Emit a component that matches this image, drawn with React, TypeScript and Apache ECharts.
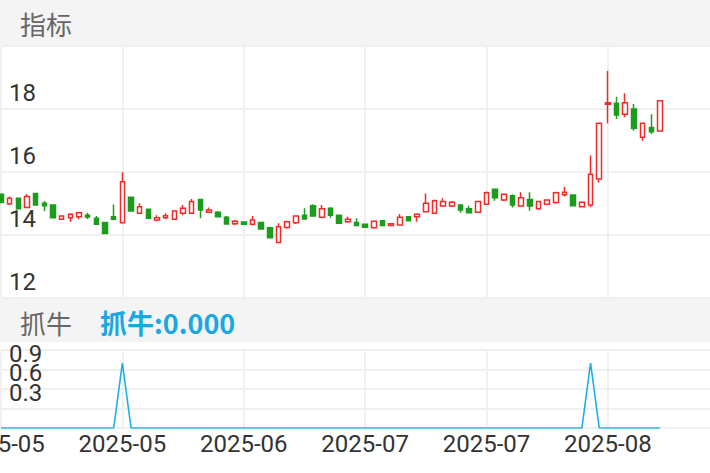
import React, { useEffect, useRef } from "react";
import * as echarts from "echarts";

// Trading dates (category axis)
const dates: string[] = [
  "2025-05-06","2025-05-07","2025-05-08","2025-05-09","2025-05-12","2025-05-13","2025-05-14","2025-05-15","2025-05-16",
  "2025-05-19","2025-05-20","2025-05-21","2025-05-22","2025-05-23","2025-05-26","2025-05-27","2025-05-28","2025-05-29","2025-05-30",
  "2025-06-03","2025-06-04","2025-06-05","2025-06-06","2025-06-09","2025-06-10","2025-06-11","2025-06-12","2025-06-13",
  "2025-06-16","2025-06-17","2025-06-18","2025-06-19","2025-06-20","2025-06-23","2025-06-24","2025-06-25","2025-06-26","2025-06-27","2025-06-30",
  "2025-07-01","2025-07-02","2025-07-03","2025-07-04","2025-07-07","2025-07-08","2025-07-09","2025-07-10","2025-07-11",
  "2025-07-14","2025-07-15","2025-07-16","2025-07-17","2025-07-18","2025-07-21","2025-07-22","2025-07-23","2025-07-24","2025-07-25",
  "2025-07-28","2025-07-29","2025-07-30","2025-07-31","2025-08-01","2025-08-04","2025-08-05","2025-08-06","2025-08-07","2025-08-08",
  "2025-08-11","2025-08-12","2025-08-13","2025-08-14","2025-08-15","2025-08-18","2025-08-19","2025-08-20","2025-08-21",
];

const opens: number[] = [
  15.29,14.99,15.17,14.87,15.32,15.01,14.95,14.50,14.55,14.58,14.63,14.53,14.40,14.58,14.39,15.20,14.69,14.82,14.48,14.55,
  14.50,14.69,14.69,15.13,14.72,14.72,14.56,14.36,14.41,14.34,14.40,14.23,13.76,14.24,14.39,14.63,14.93,14.56,14.85,14.63,
  14.42,14.40,14.34,14.23,14.45,14.30,14.32,14.58,14.58,14.74,14.69,14.92,14.92,14.95,14.83,14.72,14.98,15.45,15.11,15.25,
  14.92,15.13,14.83,14.98,15.03,15.28,15.27,14.90,14.95,15.78,18.15,18.18,17.83,18.00,17.10,17.41,17.30,
];
const closes: number[] = [
  15.04,15.17,14.83,15.22,14.95,14.93,14.55,14.60,14.66,14.71,14.57,14.34,14.05,14.50,15.69,14.76,14.90,14.53,14.55,14.61,
  14.76,14.85,15.06,14.79,14.79,14.58,14.35,14.44,14.34,14.48,14.19,13.91,14.26,14.42,14.60,14.51,14.60,14.83,14.63,14.37,
  14.50,14.30,14.25,14.44,14.30,14.36,14.56,14.45,14.66,15.01,15.09,15.06,15.04,14.79,14.71,15.06,15.34,15.18,15.29,14.95,
  15.18,14.92,15.06,15.11,15.34,15.36,14.93,15.04,15.93,17.55,18.20,17.81,18.20,17.39,17.55,17.28,18.26,
];
const lows: number[] = [
  15.00,14.95,14.81,14.85,14.93,14.76,14.53,14.48,14.42,14.50,14.51,14.33,14.03,14.47,14.37,14.74,14.67,14.52,14.44,14.50,
  14.49,14.63,14.67,14.53,14.71,14.56,14.34,14.32,14.33,14.30,14.18,13.90,13.74,14.21,14.35,14.50,14.58,14.53,14.55,14.36,
  14.39,14.29,14.24,14.22,14.29,14.28,14.29,14.44,14.42,14.72,14.67,14.90,14.89,14.71,14.70,14.71,14.95,15.09,15.08,14.87,
  14.90,14.77,14.80,14.95,14.99,15.22,14.92,14.88,14.88,15.67,17.55,17.68,17.74,17.31,16.99,17.21,17.30,
];
const highs: number[] = [
  15.32,15.22,15.18,15.29,15.33,15.08,14.96,14.62,14.69,14.74,14.71,14.60,14.42,14.97,15.99,15.22,15.01,14.83,14.63,14.69,
  14.77,14.95,15.14,15.14,14.87,14.76,14.60,14.48,14.42,14.60,14.41,14.26,14.37,14.45,14.63,14.85,14.98,14.95,14.88,14.64,
  14.58,14.53,14.35,14.46,14.46,14.38,14.67,14.60,14.69,15.32,15.13,15.17,15.08,14.96,14.93,15.07,15.38,15.48,15.32,15.29,
  15.36,15.36,15.09,15.13,15.37,15.53,15.28,15.05,16.52,17.55,19.21,18.39,18.50,18.16,17.55,17.83,18.26,
];

// 抓牛 signal
const signal: number[] = [
  0,0,0,0,0,0,0,0,0,0,0,0,0,0,1,0,0,0,0,0,
  0,0,0,0,0,0,0,0,0,0,0,0,0,0,0,0,0,0,0,0,
  0,0,0,0,0,0,0,0,0,0,0,0,0,0,0,0,0,0,0,0,
  0,0,0,0,0,0,0,0,1,0,0,0,0,0,0,0,0,
];

const priceTicks = { min: 12, max: 20, interval: 2 };
const signalTicks = { min: 0, max: 1.2, interval: 0.3 };

const STEP = 8.67;
const AXIS_MAX = 83;
const GRID_COLOR = "#f0f0f0";
const FONT = 'Roboto, "Noto Sans CJK SC", sans-serif';
const CJK = '"Noto Sans CJK SC", sans-serif';

export default function App() {
  const ref = useRef<HTMLDivElement>(null);
  useEffect(() => {
    document.body.style.margin = "0";
    if (!ref.current) return;
    const chart = echarts.init(ref.current, null, { renderer: "svg" });
    const kdata = opens.map((o, i) => [o, closes[i], lows[i], highs[i]]);
    const splitLine = { show: true, interval: 13, lineStyle: { color: GRID_COLOR, width: 2 } };
    chart.setOption({
      animation: false,
      backgroundColor: "#ffffff",
      grid: [
        { left: 1, top: 46, width: AXIS_MAX * STEP, height: 252, outerBoundsMode: "none", containLabel: false },
        { left: 1, top: 350, width: AXIS_MAX * STEP, height: 78, outerBoundsMode: "none", containLabel: false },
      ],
      xAxis: [
        {
          type: "category", gridIndex: 0, data: dates, boundaryGap: false, max: AXIS_MAX,
          axisLine: { show: false }, axisTick: { show: false },
          axisLabel: { show: false, interval: 13 }, splitLine,
        },
        {
          type: "category", gridIndex: 1, data: dates, boundaryGap: false, max: AXIS_MAX,
          axisLine: { show: false }, axisTick: { show: false },
          axisLabel: {
            interval: 13, fontSize: 24, color: "#333", margin: 4, fontFamily: FONT,
            formatter: (v: string) => (v ? v.slice(0, 7) : ""),
          },
          splitLine,
        },
      ],
      yAxis: [
        {
          type: "value", gridIndex: 0, ...priceTicks, position: "left",
          axisLine: { show: false }, axisTick: { show: false },
          splitLine: { lineStyle: { color: GRID_COLOR, width: 2 } },
          axisLabel: {
            inside: true, showMaxLabel: false, verticalAlign: "bottom", fontSize: 24,
            color: "#333", margin: 8, fontFamily: FONT, padding: [0, 0, 4, 0],
          },
        },
        {
          type: "value", gridIndex: 1, ...signalTicks, position: "left",
          axisLine: { show: false }, axisTick: { show: false },
          splitLine: { lineStyle: { color: GRID_COLOR, width: 2 } },
          axisLabel: {
            inside: true, showMaxLabel: false, showMinLabel: false, verticalAlign: "bottom",
            fontSize: 24, color: "#333", margin: 8, fontFamily: FONT, padding: [0, 0, 4, 0],
            formatter: (v: number) => v.toFixed(1),
          },
        },
      ],
      series: [
        {
          type: "candlestick", xAxisIndex: 0, yAxisIndex: 0, data: kdata, barWidth: 5,
          itemStyle: {
            color: "#ffffff", color0: "#1c9c1c",
            borderColor: "#f42a2a", borderColor0: "#1c9c1c", borderWidth: 1.5,
          },
        },
        {
          type: "line", xAxisIndex: 1, yAxisIndex: 1, data: signal, symbol: "none",
          lineStyle: { color: "#1aaee8", width: 1.6 },
        },
      ],
      graphic: [
        { type: "rect", shape: { x: 0, y: 0, width: 710, height: 45 }, style: { fill: "#f4f4f4" }, silent: true },
        { type: "rect", shape: { x: 0, y: 299, width: 710, height: 43 }, style: { fill: "#f4f4f4" }, silent: true },
        {
          type: "text", x: 20, y: 23,
          style: { text: "指标", fill: "#666", font: `26px ${CJK}`, textVerticalAlign: "middle", verticalAlign: "middle" },
        },
        {
          type: "text", x: 20, y: 322,
          style: { text: "抓牛", fill: "#666", font: `26px ${CJK}`, textVerticalAlign: "middle", verticalAlign: "middle" },
        },
        {
          type: "text", x: 100, y: 322,
          style: {
            text: "抓牛:" + signal[signal.length - 1].toFixed(3), fill: "#1aa7e2",
            font: `bold 27px ${CJK}`, textVerticalAlign: "middle", verticalAlign: "middle",
          },
        },
      ],
    });
    return () => chart.dispose();
  }, []);
  return <div ref={ref} style={{ width: 710, height: 473 }} />;
}
